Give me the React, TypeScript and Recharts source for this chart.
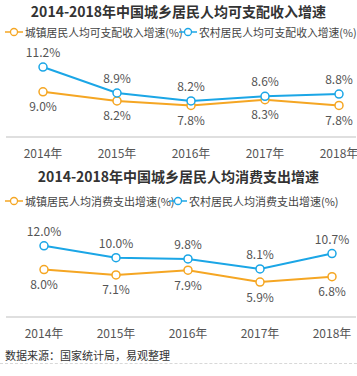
import { LineChart, Line, XAxis, YAxis, LabelList } from "recharts";

const years = ["2014年", "2015年", "2016年", "2017年", "2018年"];
const incomeUrban = [9.0, 8.2, 7.8, 8.3, 7.8];
const incomeRural = [11.2, 8.9, 8.2, 8.6, 8.8];
const spendUrban = [8.0, 7.1, 7.9, 5.9, 6.8];
const spendRural = [12.0, 10.0, 9.8, 8.1, 10.7];

const ORANGE = "#F5A623";
const BLUE = "#1BA6E6";
const FONT = '"Noto Sans CJK SC", "Noto Sans", sans-serif';

const incomeData = years.map((y, i) => ({ year: y, urban: incomeUrban[i], rural: incomeRural[i] }));
const spendData = years.map((y, i) => ({ year: y, urban: spendUrban[i], rural: spendRural[i] }));

function LegendIcon({ color }: { color: string }) {
  return (
    <svg width={18} height={10} style={{ display: "block" }}>
      <line x1={0} y1={5} x2={18} y2={5} stroke={color} strokeWidth={1.5} />
      <circle cx={9} cy={5} r={3.5} fill="#fff" stroke={color} strokeWidth={1.3} />
    </svg>
  );
}

function LegendRow({ top, size, items }: { top: number; size: number; items: { x: number; label: string; color: string }[] }) {
  return (
    <>
      {items.map((it) => (
        <div
          key={it.label}
          style={{
            position: "absolute", left: it.x, top, height: 14, display: "flex",
            alignItems: "center", fontSize: size, color: "#444", whiteSpace: "nowrap",
          }}
        >
          <LegendIcon color={it.color} />
          <span style={{ marginLeft: 2 }}>{it.label}</span>
        </div>
      ))}
    </>
  );
}

function Title({ top, text }: { top: number; text: string }) {
  return (
    <div
      style={{
        position: "absolute", left: 0, top, width: 357, textAlign: "center",
        fontSize: 14, fontWeight: 700, color: "#333", lineHeight: "20px",
      }}
    >
      {text}
    </div>
  );
}

function Panel({ data, top, height, marginTop, domain, pad }: {
  data: { year: string; urban: number; rural: number }[];
  top: number;
  height: number;
  marginTop: number;
  domain: [number, number];
  pad: { left: number; right: number };
}) {
  const fmt = (v: any) => `${Number(v).toFixed(1)}%`;
  return (
    <div style={{ position: "absolute", left: 0, top }}>
      <LineChart width={357} height={height} data={data} margin={{ top: marginTop, right: 1, left: 6, bottom: 3 }}>
        <XAxis
          dataKey="year"
          height={30}
          padding={pad}
          tickLine={false}
          tickSize={0}
          tickMargin={12}
          axisLine={{ stroke: "#d4d4d4", strokeWidth: 1.5 }}
          tick={{ fontSize: 12, fill: "#555", fontFamily: FONT }}
          interval={0}
        />
        <YAxis hide domain={domain} />
        <Line
          dataKey="urban"
          stroke={ORANGE}
          strokeWidth={2}
          dot={{ r: 4, fill: "#fff", stroke: ORANGE, strokeWidth: 1.5 }}
          isAnimationActive={false}
        >
          <LabelList dataKey="urban" position="bottom" offset={11} formatter={fmt}
            style={{ fontSize: 12, fill: "#555", fontFamily: FONT }} />
        </Line>
        <Line
          dataKey="rural"
          stroke={BLUE}
          strokeWidth={2}
          dot={{ r: 4, fill: "#fff", stroke: BLUE, strokeWidth: 1.5 }}
          isAnimationActive={false}
        >
          <LabelList dataKey="rural" position="top" offset={10} formatter={fmt}
            style={{ fontSize: 12, fill: "#555", fontFamily: FONT }} />
        </Line>
      </LineChart>
    </div>
  );
}

export default function App() {
  return (
    <div style={{ position: "absolute", left: 0, top: 0, width: 357, height: 376, background: "#fff", fontFamily: FONT, overflow: "hidden" }}>
      <Title top={1} text="2014-2018年中国城乡居民人均可支配收入增速" />
      <LegendRow
        top={25}
        size={10.8}
        items={[
          { x: 5, label: "城镇居民人均可支配收入增速(%)", color: ORANGE },
          { x: 179, label: "农村居民人均可支配收入增速(%)", color: BLUE },
        ]}
      />
      <Panel data={incomeData} top={0} height={170} marginTop={58} domain={[5, 12]} pad={{ left: 37, right: 17 }} />
      <Title top={166} text="2014-2018年中国城乡居民人均消费支出增速" />
      <LegendRow
        top={194}
        size={11}
        items={[
          { x: 5, label: "城镇居民人均消费支出增速(%)", color: ORANGE },
          { x: 169, label: "农村居民人均消费支出增速(%)", color: BLUE },
        ]}
      />
      <Panel data={spendData} top={185} height={165} marginTop={49} domain={[0, 14]} pad={{ left: 38, right: 24 }} />
      <div style={{ position: "absolute", left: 5, top: 348, fontSize: 11, color: "#333", lineHeight: "14px" }}>
        数据来源：国家统计局，易观整理
      </div>
      <div style={{ position: "absolute", left: 0, top: 363, width: 357, borderTop: "1px dashed #d8d8d8" }} />
    </div>
  );
}
